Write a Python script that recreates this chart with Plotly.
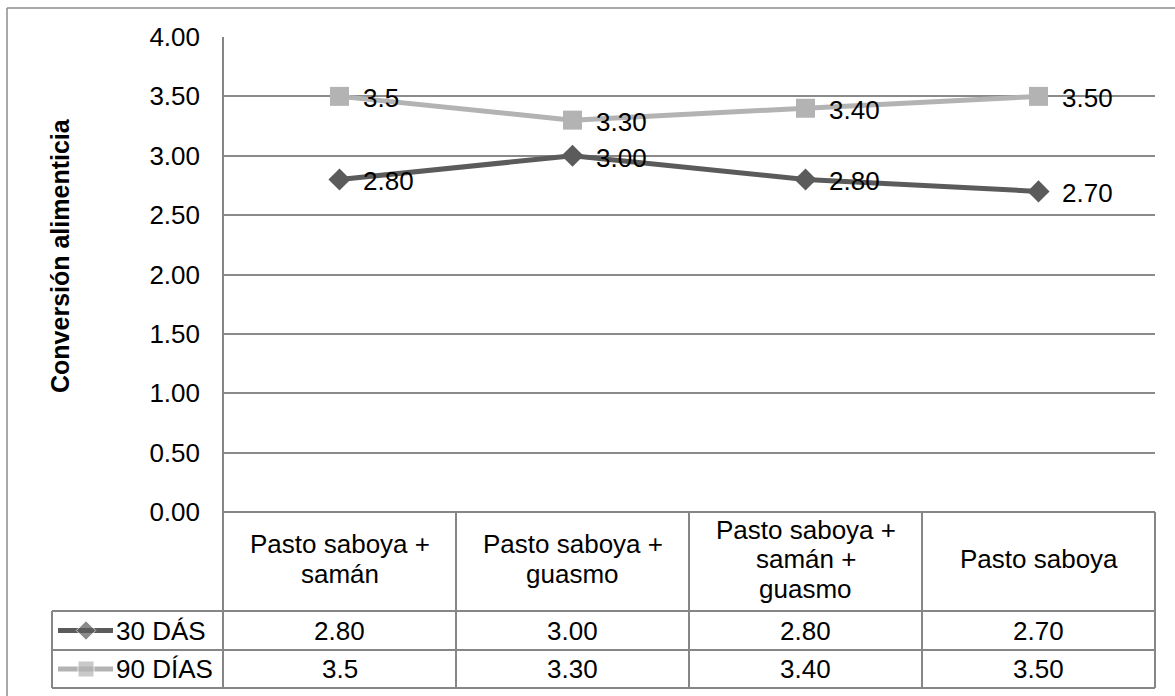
import plotly.graph_objects as go

# ---- data -------------------------------------------------------------
categorias = [
    "Pasto saboya +\nsamán",
    "Pasto saboya +\nguasmo",
    "Pasto saboya +\nsamán +\nguasmo",
    "Pasto saboya",
]
serie_30_nombre = "30 DÁS"
serie_30 = [2.80, 3.00, 2.80, 2.70]
etiquetas_30 = ["2.80", "3.00", "2.80", "2.70"]

serie_90_nombre = "90 DÍAS"
serie_90 = [3.5, 3.30, 3.40, 3.50]
etiquetas_90 = ["3.5", "3.30", "3.40", "3.50"]

y_ticks = [0, 0.5, 1.0, 1.5, 2.0, 2.5, 3.0, 3.5, 4.0]
titulo_y = "Conversión alimenticia"

# ---- styling ------------------------------------------------------------
W, H = 1175, 696
FONT = "Liberation Sans, Arial, sans-serif"
FS = 26
FS_TITLE = 25
C_DARK = "#5b5b5b"
C_LIGHT = "#b3b3b3"
C_GRID = "#8a8a8a"
C_TABLE = "#868686"

# plot area and table geometry (pixels)
PL, PR, PT, PB = 223, 1155, 37, 512
ROW1, ROW2, TBOT = 611, 650, 688
LEG_L = 52


def fx(px):
    return px / W


def fy(py):
    return 1 - py / H


xs = list(range(len(categorias)))
cell_w = (PR - PL) / len(categorias)

fig = go.Figure()

fig.add_trace(go.Scatter(
    x=xs, y=serie_30, mode="lines+markers", name=serie_30_nombre,
    line=dict(color=C_DARK, width=5),
    marker=dict(symbol="diamond", size=17, color=C_DARK),
    showlegend=False, cliponaxis=False,
))
fig.add_trace(go.Scatter(
    x=xs, y=serie_90, mode="lines+markers", name=serie_90_nombre,
    line=dict(color=C_LIGHT, width=5),
    marker=dict(symbol="square", size=19, color=C_LIGHT),
    showlegend=False, cliponaxis=False,
))

annotations = []

# value labels beside each point
for vals, labs in ((serie_30, etiquetas_30), (serie_90, etiquetas_90)):
    for x, v, t in zip(xs, vals, labs):
        annotations.append(dict(
            x=x, y=v, xref="x", yref="y", text=t, showarrow=False,
            xanchor="left", yanchor="middle", xshift=21, yshift=-2,
            font=dict(family=FONT, size=FS, color="black"),
        ))

# y-axis title
annotations.append(dict(
    x=fx(60), y=fy(256), xref="paper", yref="paper", text=f"<b>{titulo_y}</b>",
    textangle=-90, showarrow=False, xanchor="center", yanchor="middle",
    font=dict(family=FONT, size=FS_TITLE, color="black"),
))

# category header cells of the data table
line_gap = 29.5
head_mid = 559
for i, cat in enumerate(categorias):
    lines = cat.split("\n")
    cx = PL + cell_w * (i + 0.5)
    n = len(lines)
    for j, ln in enumerate(lines):
        cy = head_mid + (j - (n - 1) / 2) * line_gap
        annotations.append(dict(
            x=fx(cx), y=fy(cy), xref="paper", yref="paper", text=ln,
            showarrow=False, xanchor="center", yanchor="middle",
            font=dict(family=FONT, size=FS, color="black"),
        ))

# value rows of the data table
rows = [((ROW1 + ROW2) / 2, etiquetas_30, serie_30_nombre),
        ((ROW2 + TBOT) / 2, etiquetas_90, serie_90_nombre)]
for cy, labs, nombre in rows:
    for i, t in enumerate(labs):
        cx = PL + cell_w * (i + 0.5)
        annotations.append(dict(
            x=fx(cx), y=fy(cy), xref="paper", yref="paper", text=t,
            showarrow=False, xanchor="center", yanchor="middle",
            font=dict(family=FONT, size=FS, color="black"),
        ))
    annotations.append(dict(
        x=fx(114), y=fy(cy), xref="paper", yref="paper", text=nombre,
        showarrow=False, xanchor="left", yanchor="middle",
        font=dict(family=FONT, size=FS, color="black"),
    ))

# legend keys inside the table (pixel overlay axes)
key_x = [58, 86, 113]
for cy, color, sym, size in ((rows[0][0], C_DARK, "diamond", 15),
                             (rows[1][0], C_LIGHT, "square", 16)):
    fig.add_trace(go.Scatter(
        x=key_x, y=[cy] * 3, mode="lines+markers", xaxis="x2", yaxis="y2",
        line=dict(color=color, width=5),
        marker=dict(symbol=sym, size=[0, size, 0], color=color),
        showlegend=False, hoverinfo="skip", cliponaxis=False,
    ))

# table grid lines
shapes = []


def hline(y, x0, x1, color=C_TABLE, w=2):
    shapes.append(dict(type="line", xref="paper", yref="paper",
                       x0=fx(x0), x1=fx(x1), y0=fy(y), y1=fy(y),
                       line=dict(color=color, width=w)))


def vline(x, y0, y1, color=C_TABLE, w=2):
    shapes.append(dict(type="line", xref="paper", yref="paper",
                       x0=fx(x), x1=fx(x), y0=fy(y0), y1=fy(y1),
                       line=dict(color=color, width=w)))


for i in range(len(categorias) + 1):
    x = PL + cell_w * i
    if i == 0:
        vline(x, PT, TBOT)
    else:
        vline(x, PB, TBOT)
hline(PB, PL, PR)
for y in (ROW1, ROW2, TBOT):
    hline(y, LEG_L, PR)
vline(LEG_L, ROW1, TBOT)

# outer chart frame
hline(8, 7, W + 5, color="#8c8c8c", w=1.5)
vline(7, 8, H + 5, color="#8c8c8c", w=1.5)

fig.update_layout(
    width=W, height=H, autosize=False,
    margin=dict(l=0, r=0, t=0, b=0, pad=0, autoexpand=False),
    paper_bgcolor="white", plot_bgcolor="rgba(0,0,0,0)",
    showlegend=False,
    font=dict(family=FONT, size=FS, color="black"),
    xaxis=dict(
        domain=[fx(PL), fx(PR)], range=[-0.5, len(categorias) - 0.5],
        showticklabels=False, showgrid=False, zeroline=False, showline=False,
        fixedrange=True, automargin=False,
    ),
    yaxis=dict(
        domain=[fy(PB), fy(PT)], range=[0, 4],
        tickvals=y_ticks, tickformat=".2f",
        showgrid=True, gridcolor=C_GRID, gridwidth=2,
        zeroline=False, showline=False, ticks="",
        ticklabelstandoff=22, automargin=False,
        tickfont=dict(family=FONT, size=FS, color="black"),
        fixedrange=True,
    ),
    xaxis2=dict(domain=[0, 1], range=[0, W], visible=False, fixedrange=True,
                anchor="y2", automargin=False),
    yaxis2=dict(domain=[0, 1], range=[H, 0], visible=False, fixedrange=True,
                anchor="x2", automargin=False),
    annotations=annotations,
    shapes=shapes,
)

fig.write_html("out.html")
